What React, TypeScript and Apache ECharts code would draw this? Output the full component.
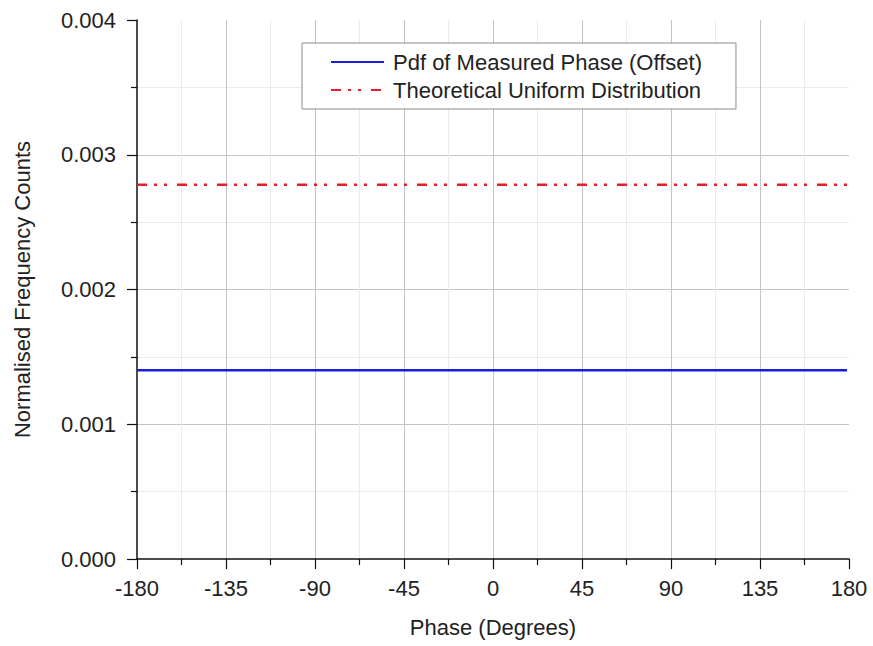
import React, { useEffect, useRef } from "react";
import * as echarts from "echarts";

const phase = [-180, -135, -90, -45, 0, 45, 90, 135, 179];
const pdfMeasured = [0.0014, 0.0014, 0.0014, 0.0014, 0.0014, 0.0014, 0.0014, 0.0014, 0.0014];
const uniformTheory = [0.002778, 0.002778, 0.002778, 0.002778, 0.002778, 0.002778, 0.002778, 0.002778, 0.002778];
const seriesNames = ["Pdf of Measured Phase (Offset)", "Theoretical Uniform Distribution"];

const FONT = "'Liberation Sans', Arial, Helvetica, sans-serif";

export default function App() {
  const ref = useRef<HTMLDivElement>(null);
  useEffect(() => {
    if (!ref.current) return;
    const chart = echarts.init(ref.current, undefined, { renderer: "svg" });
    const axisCommon = {
      axisLine: { show: true, onZero: false, lineStyle: { color: "#111", width: 1.5 } },
      axisTick: { show: true, inside: false, length: 10, lineStyle: { color: "#111", width: 1.2 } },
      minorTick: { show: true, splitNumber: 2, length: 6, lineStyle: { color: "#111", width: 1.2 } },
      splitLine: { show: true, showMinLine: false, showMaxLine: false, lineStyle: { color: "#c4c4c4", width: 1 } },
      minorSplitLine: { show: true, lineStyle: { color: "#ebebeb", width: 1 } },
      nameTextStyle: { fontFamily: FONT, fontSize: 22, color: "#222" },
    };
    chart.setOption({
      animation: false,
      backgroundColor: "#ffffff",
      grid: { left: 137, right: 24, top: 20, bottom: 87, containLabel: false },
      xAxis: {
        type: "value",
        min: -180,
        max: 180,
        interval: 45,
        name: "Phase (Degrees)",
        nameLocation: "middle",
        nameGap: 57,
        ...axisCommon,
        axisLabel: { margin: 18, fontFamily: FONT, fontSize: 22, color: "#222" },
      },
      yAxis: {
        type: "value",
        min: 0,
        max: 0.004,
        interval: 0.001,
        name: "Normalised Frequency Counts",
        nameLocation: "middle",
        nameGap: 104,
        nameRotate: 90,
        ...axisCommon,
        axisLabel: {
          margin: 21,
          fontFamily: FONT,
          fontSize: 22,
          color: "#222",
          formatter: (v: number) => v.toFixed(3),
        },
      },
      legend: {
        show: true,
        orient: "vertical",
        left: 302,
        top: 43,
        padding: [8, 34, 8, 28],
        itemGap: 6,
        itemWidth: 53,
        itemHeight: 14,
        borderColor: "#8a8a8a",
        borderWidth: 1,
        backgroundColor: "#ffffff",
        itemStyle: { opacity: 0 },
        textStyle: { fontFamily: FONT, fontSize: 22, color: "#222", padding: [0, 0, 0, 4] },
        data: seriesNames,
      },
      series: [
        {
          name: seriesNames[0],
          type: "line",
          data: phase.map((x, i) => [x, pdfMeasured[i]]),
          symbol: "none",
          showSymbol: false,
          lineStyle: { color: "#1c1ce0", width: 2.5 },
          itemStyle: { color: "#1c1ce0" },
          z: 3,
        },
        {
          name: seriesNames[1],
          type: "line",
          data: phase.map((x, i) => [x, uniformTheory[i]]),
          symbol: "none",
          showSymbol: false,
          lineStyle: { color: "#ec1c2a", width: 2.5, type: [10, 7, 3, 7, 3, 10] },
          itemStyle: { color: "#ec1c2a" },
          z: 3,
        },
      ],
    });
    return () => chart.dispose();
  }, []);
  return (
    <div
      ref={ref}
      style={{ position: "fixed", left: 0, top: 0, width: 873, height: 646 }}
    />
  );
}
